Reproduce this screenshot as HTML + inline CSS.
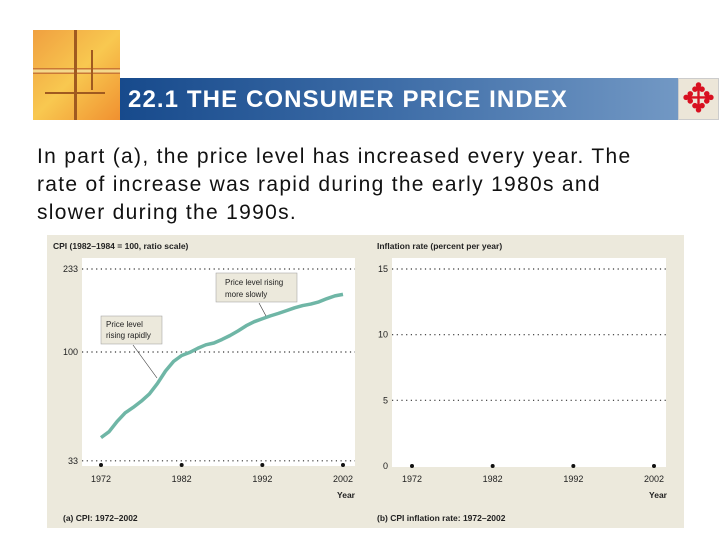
<!DOCTYPE html>
<html><head><meta charset="utf-8"><style>
body{margin:0;width:720px;height:540px;background:#fff;position:relative;overflow:hidden;font-family:"Liberation Sans",sans-serif}
.abs{position:absolute}
</style></head><body>
<div class="abs" style="left:33px;top:30px;width:87px;height:90px;background:linear-gradient(135deg,#f0a040,#f8c850 50%,#f09030)">
  <div class="abs" style="left:0;top:38px;width:87px;height:6px;background:linear-gradient(#c06020,#fff0a0,#c06020)"></div>
  <div class="abs" style="left:41px;top:0;width:3px;height:90px;background:#a05a20"></div>
  <div class="abs" style="left:58px;top:20px;width:2px;height:40px;background:#a05a20"></div>
  <div class="abs" style="left:12px;top:62px;width:60px;height:2px;background:#a05a20"></div>
</div>
<div class="abs" style="left:120px;top:78px;width:558px;height:42px;background:linear-gradient(90deg,#174a8c,#3f6ea8 50%,#7298c4)">
  <div class="abs" style="left:8px;top:8px;color:#fff;font-weight:bold;font-size:24px;letter-spacing:1.1px;white-space:nowrap">22.1 THE CONSUMER PRICE INDEX</div>
</div>
<div class="abs" style="left:678px;top:78px;width:41px;height:42px;background:#ece6d8;border:1px solid #ccc;box-sizing:border-box;color:#d81020;font-size:40px;text-align:center;line-height:40px">✥</div>
<div class="abs" style="left:37px;top:143px;white-space:nowrap;font-size:21px;letter-spacing:1.3px;line-height:28px;color:#111">In part (a), the price level has increased every year. The<br>rate of increase was rapid during the early 1980s and<br>slower during the 1990s.</div>
<svg class="abs" style="left:0;top:0" width="720" height="540">
<rect x="47" y="235" width="637" height="293" fill="#ece9dc"/>
<rect x="82" y="258" width="273" height="208" fill="#fff"/>
<rect x="392" y="258" width="274" height="209" fill="#fff"/>
<g id="ga"></g><g id="gb"></g>
</svg>
<script>
const years=[1972,1973,1974,1975,1976,1977,1978,1979,1980,1981,1982,1983,1984,1985,1986,1987,1988,1989,1990,1991,1992,1993,1994,1995,1996,1997,1998,1999,2000,2001,2002];
const cpi=[41.8,44.4,49.3,53.8,56.9,60.6,65.2,72.6,82.4,90.9,96.5,99.6,103.9,107.6,109.6,113.6,118.3,124.0,130.7,136.2,140.3,144.5,148.2,152.4,156.9,160.5,163.0,166.6,172.2,177.1,179.9];
const cpiTicks=[33,100,233];
const inflTicks=[0,5,10,15];
const yearTicks=[1972,1982,1992,2002];
const NS="http://www.w3.org/2000/svg";
function mk(p,t,a,txt){const e=document.createElementNS(NS,t);for(const k in a)e.setAttribute(k,a[k]);if(txt!==undefined)e.textContent=txt;p.appendChild(e);return e;}
const xa=y=>101+(y-1972)*(343-101)/30;
const ya=v=>352-Math.log10(v/100)*226;
const xb=y=>412+(y-1972)*(654-412)/30;
const yb=v=>466-v*(466-269)/15;
const ga=document.getElementById('ga'),gb=document.getElementById('gb');
const F='font-family:"Liberation Sans",sans-serif';
cpiTicks.forEach(v=>{
  const l=mk(ga,'line',{x1:82,x2:355,y1:ya(v),y2:ya(v),stroke:'#333','stroke-dasharray':'1.2 3.5','stroke-width':1.2});
  
  const t=mk(ga,'text',{x:78,y:ya(v)+3,'text-anchor':'end','font-size':9,fill:'#222',style:F},v);
  
});
inflTicks.forEach(v=>{
  const l=mk(gb,'line',{x1:392,x2:666,y1:yb(v),y2:yb(v),stroke:'#333','stroke-dasharray':'1.2 3.5','stroke-width':1.2,opacity:v?1:0});
  
  const t=mk(gb,'text',{x:388,y:yb(v)+3,'text-anchor':'end','font-size':9,fill:'#222',style:F},v);
  
});
yearTicks.forEach(y=>{
  let c=mk(ga,'circle',{cx:xa(y),cy:465,r:2,fill:'#111'});
  
  let t=mk(ga,'text',{x:xa(y),y:482,'text-anchor':'middle','font-size':9,fill:'#222',style:F},y);
  
  c=mk(gb,'circle',{cx:xb(y),cy:466,r:2,fill:'#111'});
  
  t=mk(gb,'text',{x:xb(y),y:482,'text-anchor':'middle','font-size':9,fill:'#222',style:F},y);
  
});
const line=mk(ga,'polyline',{points:years.map((y,i)=>xa(y)+','+ya(cpi[i])).join(' '),fill:'none',stroke:'#6fb6a6','stroke-width':3.5,'stroke-linejoin':'round'});

let a=mk(ga,'line',{x1:133,y1:345,x2:157,y2:378,stroke:'#333','stroke-width':0.6});

a=mk(ga,'rect',{x:101,y:316,width:61,height:28,fill:'#ece9dc',stroke:'#999','stroke-width':0.5});

a=mk(ga,'text',{x:106,y:327,'font-size':8,fill:'#222',style:F},'Price level');

a=mk(ga,'text',{x:106,y:338,'font-size':8,fill:'#222',style:F},'rising rapidly');

a=mk(ga,'line',{x1:259,y1:303,x2:266,y2:316,stroke:'#333','stroke-width':0.6});

a=mk(ga,'rect',{x:216,y:273,width:81,height:29,fill:'#ece9dc',stroke:'#999','stroke-width':0.5});

a=mk(ga,'text',{x:225,y:285,'font-size':8,fill:'#222',style:F},'Price level rising');

a=mk(ga,'text',{x:225,y:297,'font-size':8,fill:'#222',style:F},'more slowly');

const titles=[[53,249,'CPI (1982–1984 = 100, ratio scale)','start','y-axis-title-a'],[377,249,'Inflation rate (percent per year)','start','y-axis-title-b'],
[355,498,'Year','end','x-axis-title-a'],[667,498,'Year','end','x-axis-title-b'],
[63,521,'(a) CPI: 1972–2002','start','caption-a'],[377,521,'(b) CPI inflation rate: 1972–2002','start','caption-b']];
titles.forEach(d=>{const t=mk(ga,'text',{x:d[0],y:d[1],'text-anchor':d[3],'font-size':8.5,'font-weight':'bold',fill:'#222',style:F},d[2]);
});
</script>
</body></html>
